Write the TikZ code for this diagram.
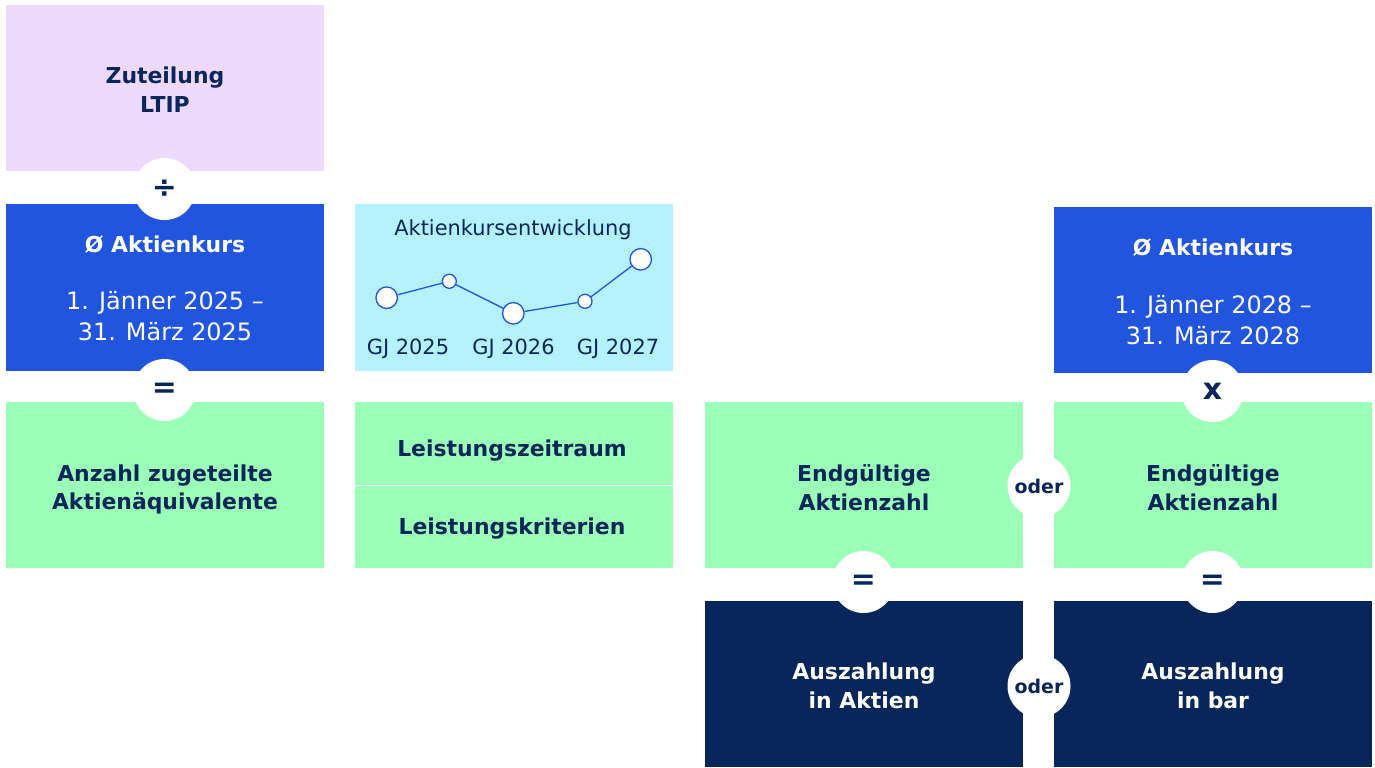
\documentclass[tikz,border=0pt]{standalone}
\usepackage{fontspec}
\setmainfont{DejaVu Sans}
\definecolor{lav}{RGB}{237,217,252}
\definecolor{blu}{RGB}{34,85,221}
\definecolor{cya}{RGB}{179,242,254}
\definecolor{grn}{RGB}{155,255,183}
\definecolor{nav}{RGB}{8,38,89}
\begin{document}
\begin{tikzpicture}[x=1bp,y=-1bp,
  box/.style={rectangle, inner sep=0pt, outer sep=0pt, minimum width=318bp, minimum height=166bp},
  bt/.style={align=center, font=\bfseries\fontsize{22}{29}\selectfont},
  rt/.style={font=\fontsize{24}{29}\selectfont},
  op/.style={circle, fill=white, minimum size=62bp, inner sep=0pt, text=nav, font=\bfseries\fontsize{30}{30}\selectfont},
  oder/.style={circle, fill=white, minimum size=63bp, inner sep=0pt, text=nav, font=\bfseries\fontsize{19}{19}\selectfont},
  big/.style={circle, draw=blu, line width=1.3bp, fill=white, minimum size=21.5bp, inner sep=0pt},
  small/.style={circle, draw=blu, line width=1.3bp, fill=white, minimum size=14bp, inner sep=0pt},
  lbl/.style={text=nav, font=\fontsize{21}{24}\selectfont}
]
\useasboundingbox (0,0) rectangle (1375,767);
\fill[white] (0,0) rectangle (1375,767);

% column 1
\node[box, fill=lav] (lav) at (165,88) {};
\node[bt, text=nav] (tlav) at (165,89.5) {Zuteilung\\LTIP};
\node[box, fill=blu, minimum height=167bp] (b1) at (165,287.5) {};
\node[bt, text=white] (tb1) at (165,245) {Ø Aktienkurs};
\node[rt, text=white] (tb1a) at (165,303) {1. Jänner 2025 –};
\node[rt, text=white] (tb1b) at (165,332) {31. März 2025};
\node[box, fill=grn] (g1) at (165,485) {};
\node[bt, text=nav] (tg1) at (165,489.5) {Anzahl zugeteilte\\Aktienäquivalente};

% column 2
\node[box, fill=cya, minimum height=167bp] (cy) at (514,287.5) {};
\node[lbl] (ct) at (513,230) {Aktienkursentwicklung};
\node[small] (p2) at (449.3,281.3) {};
\node[big] (p3) at (513.3,313.3) {};
\node[small] (p4) at (585,301.3) {};
\node[big] (p5) at (640.7,259.3) {};
\node[big] (p1) at (386.7,297.7) {};
\draw[blu, line width=1.3bp] (p1) -- (p2) -- (p3) -- (p4) -- (p5);
\node[lbl] (y1) at (408,349) {GJ 2025};
\node[lbl] (y2) at (513.5,349) {GJ 2026};
\node[lbl] (y3) at (618,349) {GJ 2027};

\node[box, fill=grn, minimum height=82.5bp] (g2a) at (514,443.25) {};
\node[box, fill=grn, minimum height=82.5bp] (g2b) at (514,526.75) {};
\node[bt, text=nav] (t2a) at (512,451) {Leistungszeitraum};
\node[bt, text=nav] (t2b) at (512,529) {Leistungskriterien};

% column 3
\node[box, fill=grn] (g3) at (864,485) {};
\node[bt, text=nav] (tg3) at (864,487.5) {Endgültige\\Aktienzahl};
\node[box, fill=nav] (n3) at (864,684) {};
\node[bt, text=white] (tn3) at (864,686) {Auszahlung\\in Aktien};

% column 4
\node[box, fill=blu] (b4) at (1213,290) {};
\node[bt, text=white] (tb4) at (1213,248) {Ø Aktienkurs};
\node[rt, text=white] (tb4a) at (1213,307) {1. Jänner 2028 –};
\node[rt, text=white] (tb4b) at (1213,336) {31. März 2028};
\node[box, fill=grn] (g4) at (1213,485) {};
\node[bt, text=nav] (tg4) at (1213,487.5) {Endgültige\\Aktienzahl};
\node[box, fill=nav] (n4) at (1213,684) {};
\node[bt, text=white] (tn4) at (1213,686) {Auszahlung\\in bar};

% operators
\node[op] (o1) at (164.5,189) {÷};
\node[op] (o2) at (164.5,390) {=};
\node[op] (o3) at (1212.5,391) {x};
\node[op] (o4) at (863.5,582) {=};
\node[op] (o5) at (1212.5,582) {=};
\node[oder] (o6) at (1039,486) {oder};
\node[oder] (o7) at (1039,686) {oder};
\end{tikzpicture}
\end{document}
